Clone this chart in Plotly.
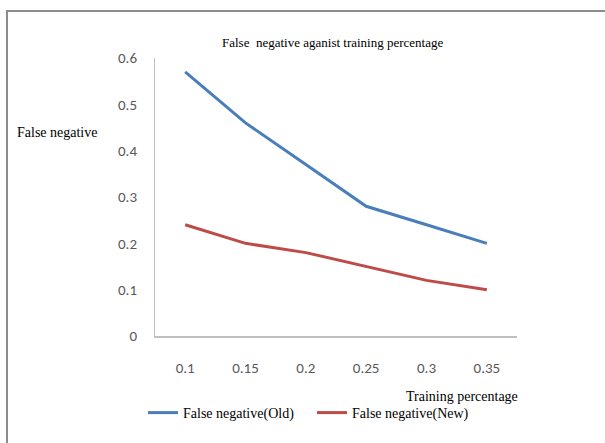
import plotly.graph_objects as go

categories = ["0.1", "0.15", "0.2", "0.25", "0.3", "0.35"]
old_values = [0.57, 0.46, 0.37, 0.28, 0.24, 0.20]
new_values = [0.24, 0.20, 0.18, 0.15, 0.12, 0.10]
y_ticks = [0, 0.1, 0.2, 0.3, 0.4, 0.5, 0.6]
y_tick_labels = ["0", "0.1", "0.2", "0.3", "0.4", "0.5", "0.6"]

W, H = 605, 443
L, R, T, B = 155, 517, 58, 336

serif = "Liberation Serif, Times New Roman, serif"
tickfont = dict(family="Carlito, Lato, Liberation Sans, sans-serif", size=15, color="#595959")

fig = go.Figure()
fig.add_trace(go.Scatter(x=categories, y=old_values, mode="lines",
                         name="False negative(Old)",
                         line=dict(color="#4A7EBB", width=3)))
fig.add_trace(go.Scatter(x=categories, y=new_values, mode="lines",
                         name="False negative(New)",
                         line=dict(color="#BE4B48", width=3)))

def px(x):
    return (x - L) / (R - L)

def py(y):
    return (B - y) / (B - T)

fig.update_layout(
    width=W, height=H,
    margin=dict(l=L, r=W - R, t=T, b=H - B, pad=0),
    paper_bgcolor="white", plot_bgcolor="white",
    showlegend=True,
    legend=dict(orientation="h", x=px(143), y=py(413), xanchor="left", yanchor="middle",
                font=dict(family=serif, size=14, color="black"),
                itemwidth=30, entrywidth=124, entrywidthmode="pixels",
                tracegroupgap=0, bgcolor="rgba(0,0,0,0)"),
    xaxis=dict(type="category", range=[-0.5, 5.5], showgrid=False, zeroline=False,
               showline=True, linecolor="#BFBFBF", linewidth=2,
               ticks="", tickfont=tickfont, ticklabelstandoff=17),
    yaxis=dict(range=[0, 0.6], tickvals=y_ticks, ticktext=y_tick_labels,
               showgrid=False, zeroline=False,
               showline=True, linecolor="#BFBFBF", linewidth=1,
               ticks="", tickfont=tickfont, ticklabelstandoff=14),
    annotations=[
        dict(text="False  negative aganist training percentage", x=px(333), y=py(43),
             xref="paper", yref="paper", showarrow=False,
             font=dict(family=serif, size=13, color="black"), xanchor="center", yanchor="middle"),
        dict(text="False negative", x=px(15), y=py(132),
             xref="paper", yref="paper", showarrow=False,
             font=dict(family=serif, size=14, color="black"), xanchor="left", yanchor="middle"),
        dict(text="Training percentage", x=px(520), y=py(396),
             xref="paper", yref="paper", showarrow=False,
             font=dict(family=serif, size=14, color="black"), xanchor="right", yanchor="middle"),
    ],
    shapes=[
        dict(type="rect", xref="paper", yref="paper",
             x0=px(7), x1=px(640), y0=py(480), y1=py(11),
             line=dict(color="#8C8C8C", width=2), fillcolor="rgba(0,0,0,0)", layer="below"),
    ],
)

fig.write_html("out.html")
